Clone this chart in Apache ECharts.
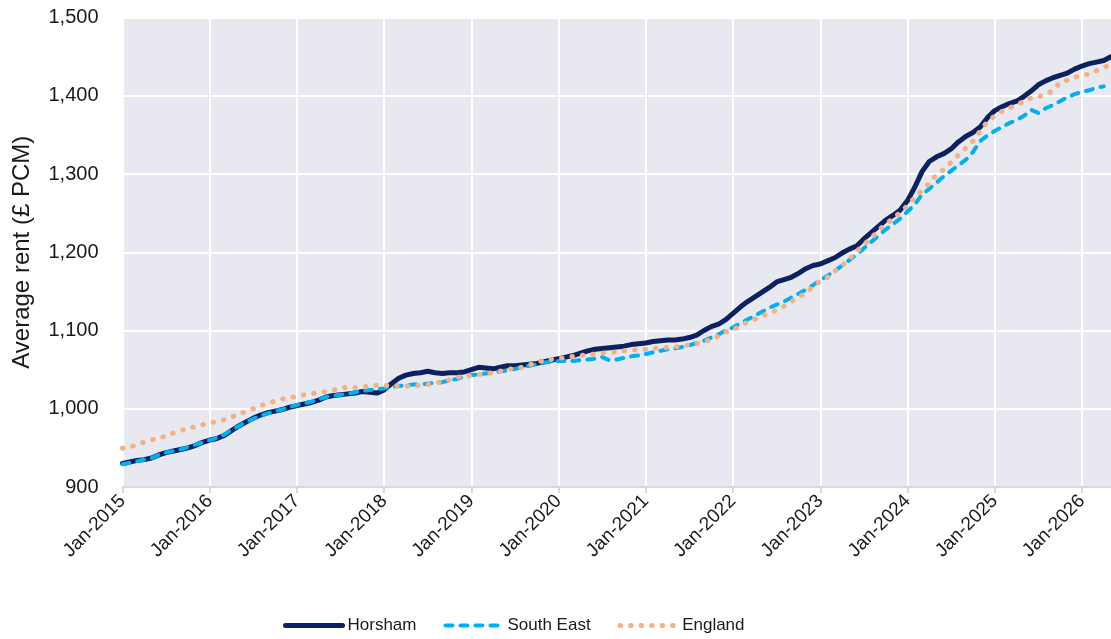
<!DOCTYPE html>
<html>
<head>
<meta charset="utf-8">
<script src="https://cdn.jsdelivr.net/npm/echarts@6/dist/echarts.min.js"></script>
<style>
  html, body { margin: 0; padding: 0; background: #ffffff; }
  #chart { width: 1111px; height: 639px; }
</style>
</head>
<body>
<div id="chart"></div>
<script>
// Monthly average rents, Jan-2015 to May-2026
const startYear = 2015;
const monthNames = ['Jan','Feb','Mar','Apr','May','Jun','Jul','Aug','Sep','Oct','Nov','Dec'];

const horsham = [
  930, 932, 934, 935, 937, 941, 944, 946, 948, 950, 953, 957,
  960, 962, 966, 972, 978, 983, 988, 992, 995, 997, 999, 1002,
  1004, 1006, 1008, 1011, 1015, 1017, 1018, 1019, 1020, 1022, 1021, 1020,
  1024, 1032, 1039, 1043, 1045, 1046, 1048, 1046, 1045, 1046, 1046, 1047,
  1050, 1053, 1052, 1051, 1053, 1055, 1055, 1056, 1057, 1058, 1060, 1062,
  1064, 1066, 1068, 1071, 1074, 1076, 1077, 1078, 1079, 1080, 1082, 1083,
  1084, 1086, 1087, 1088, 1088, 1089, 1091, 1094, 1100, 1105, 1108, 1114,
  1122, 1130, 1137, 1143, 1149, 1155, 1162, 1165, 1168, 1173, 1179, 1183,
  1185, 1189, 1193, 1199, 1204, 1208, 1217, 1225, 1233, 1241, 1247, 1254,
  1266, 1283, 1303, 1316, 1322, 1326, 1332, 1341, 1348, 1353, 1360, 1372,
  1381, 1386, 1390, 1393, 1399, 1406, 1414, 1419, 1423, 1426, 1429, 1434,
  1438, 1441, 1443, 1445, 1450
];

const southEast = [
  929, 931, 933, 935, 937, 941, 944, 946, 948, 951, 954, 957,
  960, 963, 967, 973, 978, 983, 987, 991, 994, 997, 999, 1002,
  1005, 1007, 1009, 1012, 1015, 1017, 1018, 1019, 1021, 1023, 1024, 1025,
  1026, 1028, 1029, 1030, 1031, 1031, 1032, 1033, 1034, 1036, 1038, 1041,
  1043, 1044, 1045, 1046, 1048, 1049, 1051, 1053, 1055, 1057, 1059, 1060,
  1061, 1061, 1061, 1062, 1063, 1064, 1066, 1062, 1063, 1065, 1067, 1068,
  1070, 1072, 1074, 1076, 1077, 1079, 1081, 1084, 1087, 1091, 1095, 1100,
  1104, 1109, 1114, 1119, 1124, 1129, 1133, 1137, 1142, 1147, 1152, 1158,
  1164, 1170, 1176, 1183, 1190, 1197, 1205, 1213, 1221, 1229, 1236, 1243,
  1252, 1261, 1274, 1281, 1289, 1297, 1304, 1311, 1318, 1328, 1342, 1349,
  1355, 1360, 1365, 1369, 1374, 1382, 1378, 1384, 1388, 1393, 1398, 1402,
  1405, 1407, 1410, 1412, null
];

const england = [
  949.5, 951, 954, 957.5, 960, 963, 965, 969, 972, 975, 977, 979.5,
  982, 983.5, 986, 989.5, 993, 997, 1000, 1004, 1007, 1010, 1012.5, 1014,
  1016, 1018, 1019, 1021, 1022, 1024, 1026, 1028, 1027, 1028, 1029, 1030,
  1030, 1029, 1029.5, 1029, 1029, 1030, 1031, 1033, 1034, 1037, 1040, 1041.5,
  1042, 1043.5, 1045, 1046, 1048, 1050.5, 1051.5, 1053, 1056, 1059.5, 1062, 1063,
  1064, 1066, 1067, 1068, 1069, 1070, 1071, 1072, 1072.5, 1074, 1075, 1075.5,
  1076, 1077, 1077.5, 1078.5, 1079, 1080, 1081.5, 1083, 1086, 1088, 1093, 1098,
  1101, 1105.5, 1111, 1114.5, 1118.5, 1122, 1126, 1131, 1137, 1142.5, 1148, 1156,
  1163, 1168, 1176, 1183, 1191, 1201, 1210, 1218, 1228, 1236, 1243, 1251,
  1259.5, 1270, 1279.5, 1288, 1299, 1306, 1315, 1324, 1333, 1342, 1355, 1367,
  1374, 1380, 1384.5, 1388, 1393, 1397, 1399, 1401, 1407, 1417, 1420, 1424,
  1425, 1428, 1432, 1436, 1440
];

const yTicks = { min: 900, max: 1500, step: 100 };

const categories = horsham.map((_, i) =>
  monthNames[i % 12] + '-' + (startYear + Math.floor(i / 12)));

const isJanuary = (idx) => idx % 12 === 0;
const sans = "'Liberation Sans', Arial, sans-serif";

// line styles shared by the series and their legend entries
const styles = {
  Horsham: { color: '#0b2160', width: 5, type: 'solid', cap: 'round', join: 'round' },
  'South East': { color: '#00b0f0', width: 4, type: [7, 8], cap: 'round', join: 'round' },
  England: { color: '#f4b183', width: 5, type: [0.5, 10], cap: 'round', join: 'round' }
};

const chart = echarts.init(document.getElementById('chart'), null, { renderer: 'canvas' });

chart.setOption({
  animation: false,
  backgroundColor: '#ffffff',
  grid: {
    left: 122.5, right: 0, top: 17.5, bottom: 152,
    show: true, backgroundColor: '#e8e8f0', borderWidth: 0
  },
  legend: {
    top: 611,
    left: 278,
    itemWidth: 57,
    itemHeight: 24,
    itemGap: 27,
    itemStyle: { color: 'rgba(0,0,0,0)', borderWidth: 0, opacity: 0 },
    textStyle: { fontFamily: sans, fontSize: 17, color: '#1a1a1a', padding: [0, 0, 0, 0] },
    data: Object.keys(styles).map((name) => ({ name, lineStyle: { ...styles[name] } }))
  },
  xAxis: {
    type: 'category',
    boundaryGap: false,
    data: categories,
    axisLine: { lineStyle: { color: '#d9d9d9', width: 2 } },
    axisTick: { interval: (idx) => isJanuary(idx), length: 6, lineStyle: { color: '#d9d9d9', width: 2 } },
    axisLabel: {
      interval: (idx) => isJanuary(idx),
      rotate: 45,
      margin: 11,
      fontFamily: sans,
      fontSize: 19,
      color: '#1a1a1a'
    },
    splitLine: { show: true, interval: (idx) => isJanuary(idx), lineStyle: { color: '#ffffff', width: 2 } }
  },
  yAxis: {
    type: 'value',
    min: yTicks.min,
    max: yTicks.max,
    interval: yTicks.step,
    name: 'Average rent (£ PCM)',
    nameLocation: 'middle',
    nameRotate: 90,
    nameGap: 88,
    nameTextStyle: { fontFamily: sans, fontSize: 24, color: '#1a1a1a' },
    axisLine: { show: false },
    axisTick: { show: false },
    axisLabel: {
      margin: 24,
      fontFamily: sans,
      fontSize: 20,
      color: '#1a1a1a',
      formatter: (v) => v.toLocaleString('en-GB')
    },
    splitLine: { lineStyle: { color: '#ffffff', width: 2 } }
  },
  series: [
    { name: 'Horsham', data: horsham, z: 3 },
    { name: 'South East', data: southEast, z: 4 },
    { name: 'England', data: england, z: 5 }
  ].map((s) => ({
    name: s.name,
    type: 'line',
    data: s.data,
    symbol: 'none',
    z: s.z,
    itemStyle: { color: styles[s.name].color },
    lineStyle: { ...styles[s.name] }
  }))
});
</script>
</body>
</html>
